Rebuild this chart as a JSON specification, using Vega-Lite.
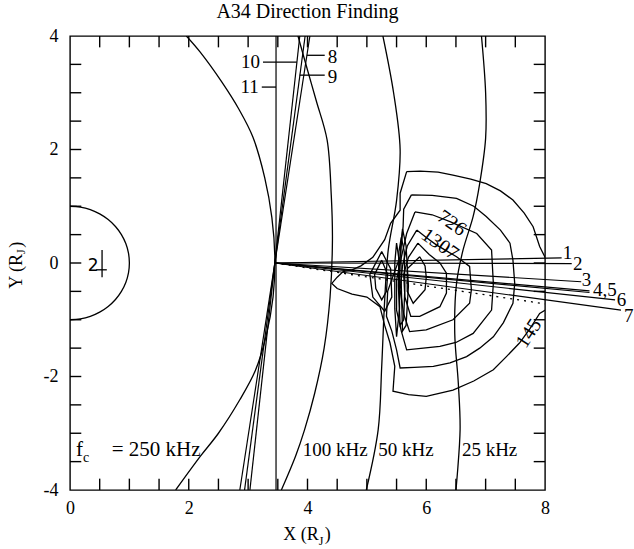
{
  "$schema": "https://vega.github.io/schema/vega-lite/v6.json",
  "width": 475,
  "height": 454,
  "autosize": {"type": "none"},
  "padding": {"left": 70, "top": 36, "right": 89, "bottom": 59},
  "background": "white",
  "title": {"text": "A34 Direction Finding", "font": "Liberation Serif", "fontSize": 20, "fontWeight": "normal", "color": "black", "offset": 5},
  "config": {
    "view": {"stroke": "black", "strokeWidth": 1.4},
    "axis": {"domain": false, "ticks": false, "labelColor": "black", "labelFont": "Liberation Serif", "labelFontSize": 18, "grid": false},
    "text": {"font": "Liberation Serif", "fontSize": 19, "color": "black"},
    "line": {"color": "black", "strokeWidth": 1.3},
    "rule": {"color": "black", "strokeWidth": 1.3}
  },
  "datasets": {
    "hticks": [
      {"x":0,"x2":0.19,"y":-3.5},{"x":0,"x2":0.19,"y":-3},{"x":0,"x2":0.19,"y":-2.5},{"x":0,"x2":0.19,"y":-2},{"x":0,"x2":0.19,"y":-1.5},{"x":0,"x2":0.19,"y":-1},{"x":0,"x2":0.19,"y":-0.5},{"x":0,"x2":0.19,"y":0},{"x":0,"x2":0.19,"y":0.5},{"x":0,"x2":0.19,"y":1},{"x":0,"x2":0.19,"y":1.5},{"x":0,"x2":0.19,"y":2},{"x":0,"x2":0.19,"y":2.5},{"x":0,"x2":0.19,"y":3},{"x":0,"x2":0.19,"y":3.5},
      {"x":8,"x2":7.81,"y":-3.5},{"x":8,"x2":7.81,"y":-3},{"x":8,"x2":7.81,"y":-2.5},{"x":8,"x2":7.81,"y":-2},{"x":8,"x2":7.81,"y":-1.5},{"x":8,"x2":7.81,"y":-1},{"x":8,"x2":7.81,"y":-0.5},{"x":8,"x2":7.81,"y":0},{"x":8,"x2":7.81,"y":0.5},{"x":8,"x2":7.81,"y":1},{"x":8,"x2":7.81,"y":1.5},{"x":8,"x2":7.81,"y":2},{"x":8,"x2":7.81,"y":2.5},{"x":8,"x2":7.81,"y":3},{"x":8,"x2":7.81,"y":3.5}
    ],
    "vticks": [
      {"x":0.5,"y":-4,"y2":-3.8},{"x":1,"y":-4,"y2":-3.8},{"x":1.5,"y":-4,"y2":-3.8},{"x":2,"y":-4,"y2":-3.8},{"x":2.5,"y":-4,"y2":-3.8},{"x":3,"y":-4,"y2":-3.8},{"x":3.5,"y":-4,"y2":-3.8},{"x":4,"y":-4,"y2":-3.8},{"x":4.5,"y":-4,"y2":-3.8},{"x":5,"y":-4,"y2":-3.8},{"x":5.5,"y":-4,"y2":-3.8},{"x":6,"y":-4,"y2":-3.8},{"x":6.5,"y":-4,"y2":-3.8},{"x":7,"y":-4,"y2":-3.8},{"x":7.5,"y":-4,"y2":-3.8},
      {"x":0.5,"y":4,"y2":3.8},{"x":1,"y":4,"y2":3.8},{"x":1.5,"y":4,"y2":3.8},{"x":2,"y":4,"y2":3.8},{"x":2.5,"y":4,"y2":3.8},{"x":3,"y":4,"y2":3.8},{"x":3.5,"y":4,"y2":3.8},{"x":4,"y":4,"y2":3.8},{"x":4.5,"y":4,"y2":3.8},{"x":5,"y":4,"y2":3.8},{"x":5.5,"y":4,"y2":3.8},{"x":6,"y":4,"y2":3.8},{"x":6.5,"y":4,"y2":3.8},{"x":7,"y":4,"y2":3.8},{"x":7.5,"y":4,"y2":3.8}
    ],
    "freq": [
      {"c":"250","o":0,"x":1.96,"y":4},{"c":"250","o":1,"x":2.19,"y":3.72},{"c":"250","o":2,"x":2.55,"y":3.2},{"c":"250","o":3,"x":2.85,"y":2.7},{"c":"250","o":4,"x":3.08,"y":2.22},{"c":"250","o":5,"x":3.28,"y":1.5},{"c":"250","o":6,"x":3.4,"y":0.8},{"c":"250","o":7,"x":3.45,"y":0.1},{"c":"250","o":8,"x":3.42,"y":-0.6},{"c":"250","o":9,"x":3.3,"y":-1.3},{"c":"250","o":10,"x":3.12,"y":-1.9},{"c":"250","o":11,"x":2.86,"y":-2.41},{"c":"250","o":12,"x":2.5,"y":-3.0},{"c":"250","o":13,"x":2.2,"y":-3.4},{"c":"250","o":14,"x":1.78,"y":-4},
      {"c":"100","o":0,"x":3.84,"y":4},{"c":"100","o":1,"x":4.0,"y":3.4},{"c":"100","o":2,"x":4.15,"y":2.85},{"c":"100","o":3,"x":4.33,"y":2.17},{"c":"100","o":4,"x":4.4,"y":1.2},{"c":"100","o":5,"x":4.42,"y":0.4},{"c":"100","o":6,"x":4.38,"y":-0.6},{"c":"100","o":7,"x":4.28,"y":-1.5},{"c":"100","o":8,"x":4.12,"y":-2.3},{"c":"100","o":9,"x":3.95,"y":-2.94},{"c":"100","o":10,"x":3.8,"y":-3.4},{"c":"100","o":11,"x":3.56,"y":-4},
      {"c":"50","o":0,"x":5.27,"y":4},{"c":"50","o":1,"x":5.45,"y":3},{"c":"50","o":2,"x":5.56,"y":2},{"c":"50","o":3,"x":5.5,"y":1.1},{"c":"50","o":4,"x":5.36,"y":0.23},{"c":"50","o":5,"x":5.3,"y":-0.65},{"c":"50","o":6,"x":5.25,"y":-1.82},{"c":"50","o":7,"x":5.19,"y":-2.94},{"c":"50","o":8,"x":4.99,"y":-4},
      {"c":"25","o":0,"x":6.93,"y":4},{"c":"25","o":1,"x":7.0,"y":3},{"c":"25","o":2,"x":7.0,"y":2.2},{"c":"25","o":3,"x":6.9,"y":1.4},{"c":"25","o":4,"x":6.79,"y":0.82},{"c":"25","o":5,"x":6.62,"y":0.23},{"c":"25","o":6,"x":6.51,"y":-0.36},{"c":"25","o":7,"x":6.48,"y":-1.24},{"c":"25","o":8,"x":6.54,"y":-2.12},{"c":"25","o":9,"x":6.57,"y":-2.94},{"c":"25","o":10,"x":6.5,"y":-4}
    ],
    "jupiter": [
      {"o":0,"x":0,"y":1},{"o":1,"x":0.174,"y":0.985},{"o":2,"x":0.342,"y":0.94},{"o":3,"x":0.5,"y":0.866},{"o":4,"x":0.643,"y":0.766},{"o":5,"x":0.766,"y":0.643},{"o":6,"x":0.866,"y":0.5},{"o":7,"x":0.94,"y":0.342},{"o":8,"x":0.985,"y":0.174},{"o":9,"x":1,"y":0},{"o":10,"x":0.985,"y":-0.174},{"o":11,"x":0.94,"y":-0.342},{"o":12,"x":0.866,"y":-0.5},{"o":13,"x":0.766,"y":-0.643},{"o":14,"x":0.643,"y":-0.766},{"o":15,"x":0.5,"y":-0.866},{"o":16,"x":0.342,"y":-0.94},{"o":17,"x":0.174,"y":-0.985},{"o":18,"x":0,"y":-1}
    ],
    "contours": [
      {"c":"c1","o":0,"x":5.67,"y":1.61},{"c":"c1","o":1,"x":5.9,"y":1.62},{"c":"c1","o":2,"x":6.2,"y":1.6},{"c":"c1","o":3,"x":6.45,"y":1.55},{"c":"c1","o":4,"x":6.75,"y":1.48},{"c":"c1","o":5,"x":7.01,"y":1.4},{"c":"c1","o":6,"x":7.25,"y":1.27},{"c":"c1","o":7,"x":7.46,"y":1.11},{"c":"c1","o":8,"x":7.65,"y":0.88},{"c":"c1","o":9,"x":7.8,"y":0.64},{"c":"c1","o":10,"x":7.91,"y":0.29},{"c":"c1","o":11,"x":8.05,"y":0.0},{"c":"c1","o":12,"x":8.1,"y":-0.4},{"c":"c1","o":13,"x":8.05,"y":-0.8},{"c":"c1","o":14,"x":7.91,"y":-0.89},{"c":"c1","o":15,"x":7.75,"y":-1.15},{"c":"c1","o":16,"x":7.57,"y":-1.41},{"c":"c1","o":17,"x":7.35,"y":-1.65},{"c":"c1","o":18,"x":7.13,"y":-1.88},{"c":"c1","o":19,"x":6.8,"y":-2.08},{"c":"c1","o":20,"x":6.45,"y":-2.24},{"c":"c1","o":21,"x":6.0,"y":-2.35},{"c":"c1","o":22,"x":5.7,"y":-2.32},{"c":"c1","o":23,"x":5.44,"y":-2.26},{"c":"c1","o":24,"x":5.47,"y":-1.82},{"c":"c1","o":25,"x":5.39,"y":-1.41},{"c":"c1","o":26,"x":5.3,"y":-1.1},{"c":"c1","o":27,"x":5.22,"y":-0.77},{"c":"c1","o":28,"x":5.0,"y":-0.6},{"c":"c1","o":29,"x":4.75,"y":-0.55},{"c":"c1","o":30,"x":4.5,"y":-0.45},{"c":"c1","o":31,"x":4.41,"y":-0.36},{"c":"c1","o":32,"x":4.5,"y":-0.25},{"c":"c1","o":33,"x":4.6,"y":-0.15},{"c":"c1","o":34,"x":4.75,"y":-0.12},{"c":"c1","o":35,"x":4.9,"y":-0.05},{"c":"c1","o":36,"x":5.1,"y":0.1},{"c":"c1","o":37,"x":5.3,"y":0.41},{"c":"c1","o":38,"x":5.4,"y":0.7},{"c":"c1","o":39,"x":5.56,"y":0.93},{"c":"c1","o":40,"x":5.56,"y":1.23},{"c":"c1","o":41,"x":5.67,"y":1.61},
      {"c":"c2","o":0,"x":5.75,"y":1.2},{"c":"c2","o":1,"x":6.1,"y":1.19},{"c":"c2","o":2,"x":6.51,"y":1.14},{"c":"c2","o":3,"x":6.8,"y":1.0},{"c":"c2","o":4,"x":7.01,"y":0.82},{"c":"c2","o":5,"x":7.25,"y":0.58},{"c":"c2","o":6,"x":7.41,"y":0.35},{"c":"c2","o":7,"x":7.46,"y":0.05},{"c":"c2","o":8,"x":7.49,"y":-0.36},{"c":"c2","o":9,"x":7.46,"y":-0.71},{"c":"c2","o":10,"x":7.3,"y":-1.05},{"c":"c2","o":11,"x":7.13,"y":-1.3},{"c":"c2","o":12,"x":6.9,"y":-1.5},{"c":"c2","o":13,"x":6.68,"y":-1.65},{"c":"c2","o":14,"x":6.4,"y":-1.76},{"c":"c2","o":15,"x":6.12,"y":-1.82},{"c":"c2","o":16,"x":5.8,"y":-1.84},{"c":"c2","o":17,"x":5.56,"y":-1.85},{"c":"c2","o":18,"x":5.5,"y":-1.53},{"c":"c2","o":19,"x":5.42,"y":-1.2},{"c":"c2","o":20,"x":5.33,"y":-0.94},{"c":"c2","o":21,"x":5.35,"y":-0.5},{"c":"c2","o":22,"x":5.45,"y":-0.2},{"c":"c2","o":23,"x":5.56,"y":0.11},{"c":"c2","o":24,"x":5.61,"y":0.64},{"c":"c2","o":25,"x":5.62,"y":0.95},{"c":"c2","o":26,"x":5.75,"y":1.2},
      {"c":"c3","o":0,"x":5.81,"y":0.9},{"c":"c3","o":1,"x":6.1,"y":0.85},{"c":"c3","o":2,"x":6.4,"y":0.73},{"c":"c3","o":3,"x":6.85,"y":0.52},{"c":"c3","o":4,"x":7.1,"y":0.23},{"c":"c3","o":5,"x":7.13,"y":-0.36},{"c":"c3","o":6,"x":7.1,"y":-0.83},{"c":"c3","o":7,"x":6.79,"y":-1.24},{"c":"c3","o":8,"x":6.5,"y":-1.4},{"c":"c3","o":9,"x":6.23,"y":-1.47},{"c":"c3","o":10,"x":5.95,"y":-1.5},{"c":"c3","o":11,"x":5.67,"y":-1.53},{"c":"c3","o":12,"x":5.58,"y":-1.2},{"c":"c3","o":13,"x":5.5,"y":-0.83},{"c":"c3","o":14,"x":5.5,"y":-0.3},{"c":"c3","o":15,"x":5.58,"y":0.1},{"c":"c3","o":16,"x":5.67,"y":0.52},{"c":"c3","o":17,"x":5.81,"y":0.9},
      {"c":"c4","o":0,"x":5.84,"y":0.58},{"c":"c4","o":1,"x":6.0,"y":0.45},{"c":"c4","o":2,"x":6.17,"y":0.32},{"c":"c4","o":3,"x":6.51,"y":0.11},{"c":"c4","o":4,"x":6.73,"y":-0.06},{"c":"c4","o":5,"x":6.76,"y":-0.47},{"c":"c4","o":6,"x":6.73,"y":-0.71},{"c":"c4","o":7,"x":6.45,"y":-1.0},{"c":"c4","o":8,"x":6.0,"y":-1.18},{"c":"c4","o":9,"x":5.72,"y":-1.21},{"c":"c4","o":10,"x":5.62,"y":-0.9},{"c":"c4","o":11,"x":5.56,"y":-0.47},{"c":"c4","o":12,"x":5.6,"y":-0.05},{"c":"c4","o":13,"x":5.68,"y":0.3},{"c":"c4","o":14,"x":5.84,"y":0.58},
      {"c":"c5","o":0,"x":5.86,"y":0.35},{"c":"c5","o":1,"x":6.05,"y":0.15},{"c":"c5","o":2,"x":6.23,"y":0.0},{"c":"c5","o":3,"x":6.34,"y":-0.18},{"c":"c5","o":4,"x":6.34,"y":-0.53},{"c":"c5","o":5,"x":6.23,"y":-0.77},{"c":"c5","o":6,"x":5.89,"y":-0.94},{"c":"c5","o":7,"x":5.74,"y":-0.94},{"c":"c5","o":8,"x":5.64,"y":-0.6},{"c":"c5","o":9,"x":5.62,"y":-0.2},{"c":"c5","o":10,"x":5.7,"y":0.1},{"c":"c5","o":11,"x":5.86,"y":0.35},
      {"c":"c6","o":0,"x":5.89,"y":0.11},{"c":"c6","o":1,"x":5.98,"y":-0.05},{"c":"c6","o":2,"x":6.0,"y":-0.25},{"c":"c6","o":3,"x":5.98,"y":-0.47},{"c":"c6","o":4,"x":5.78,"y":-0.71},{"c":"c6","o":5,"x":5.68,"y":-0.5},{"c":"c6","o":6,"x":5.68,"y":-0.1},{"c":"c6","o":7,"x":5.89,"y":0.11},
      {"c":"c7","o":0,"x":5.58,"y":0.45},{"c":"c7","o":1,"x":5.63,"y":0.2},{"c":"c7","o":2,"x":5.64,"y":-0.4},{"c":"c7","o":3,"x":5.62,"y":-1.0},{"c":"c7","o":4,"x":5.56,"y":-1.1},{"c":"c7","o":5,"x":5.53,"y":-0.4},{"c":"c7","o":6,"x":5.54,"y":0.2},{"c":"c7","o":7,"x":5.58,"y":0.45},
      {"c":"c8","o":0,"x":5.6,"y":0.6},{"c":"c8","o":1,"x":5.66,"y":0.3},{"c":"c8","o":2,"x":5.7,"y":-0.4},{"c":"c8","o":3,"x":5.66,"y":-1.1},{"c":"c8","o":4,"x":5.6,"y":-1.2},{"c":"c8","o":5,"x":5.58,"y":-0.4},{"c":"c8","o":6,"x":5.57,"y":0.3},{"c":"c8","o":7,"x":5.6,"y":0.6},
      {"c":"c9","o":0,"x":5.5,"y":0.35},{"c":"c9","o":1,"x":5.55,"y":0.0},{"c":"c9","o":2,"x":5.55,"y":-0.8},{"c":"c9","o":3,"x":5.5,"y":-1.3},{"c":"c9","o":4,"x":5.47,"y":-0.8},{"c":"c9","o":5,"x":5.47,"y":0.0},{"c":"c9","o":6,"x":5.5,"y":0.35},
      {"c":"l1","o":0,"x":5.25,"y":0.05},{"c":"l1","o":1,"x":5.35,"y":-0.2},{"c":"l1","o":2,"x":5.33,"y":-0.5},{"c":"l1","o":3,"x":5.25,"y":-0.65},{"c":"l1","o":4,"x":5.15,"y":-0.45},{"c":"l1","o":5,"x":5.13,"y":-0.2},{"c":"l1","o":6,"x":5.25,"y":0.05},
      {"c":"l2","o":0,"x":5.25,"y":0.2},{"c":"l2","o":1,"x":5.4,"y":-0.1},{"c":"l2","o":2,"x":5.42,"y":-0.6},{"c":"l2","o":3,"x":5.3,"y":-0.85},{"c":"l2","o":4,"x":5.1,"y":-0.6},{"c":"l2","o":5,"x":5.05,"y":-0.2},{"c":"l2","o":6,"x":5.25,"y":0.2}
    ],
    "rays": [
      {"r":"1","o":0,"x":3.45,"y":0},{"r":"1","o":1,"x":8.28,"y":0.09},
      {"r":"2","o":0,"x":3.45,"y":0},{"r":"2","o":1,"x":8.45,"y":-0.01},
      {"r":"3","o":0,"x":3.45,"y":0},{"r":"3","o":1,"x":8.61,"y":-0.33},
      {"r":"4","o":0,"x":3.45,"y":0},{"r":"4","o":1,"x":8.75,"y":-0.49},
      {"r":"5","o":0,"x":3.45,"y":0},{"r":"5","o":1,"x":8.75,"y":-0.52},
      {"r":"6","o":0,"x":3.45,"y":0},{"r":"6","o":1,"x":9.18,"y":-0.65},
      {"r":"7","o":0,"x":3.45,"y":0},{"r":"7","o":1,"x":9.28,"y":-0.83},
      {"r":"8","o":0,"x":2.86,"y":-4},{"r":"8","o":1,"x":4.04,"y":4},
      {"r":"9","o":0,"x":2.94,"y":-4},{"r":"9","o":1,"x":3.96,"y":4},
      {"r":"10","o":0,"x":3.03,"y":-4},{"r":"10","o":1,"x":3.87,"y":4},
      {"r":"11","o":0,"x":3.47,"y":-4},{"r":"11","o":1,"x":3.47,"y":4}
    ],
    "dotted": [
      {"o":0,"x":3.45,"y":0},{"o":1,"x":8.0,"y":-0.72}
    ],
    "leaders": [
      {"r":"8","x":3.99,"x2":4.29,"y":3.66},
      {"r":"9","x":3.87,"x2":4.29,"y":3.31},
      {"r":"10","x":3.25,"x2":3.82,"y":3.54},
      {"r":"11","x":3.23,"x2":3.47,"y":3.1},
      {"r":"cross","x":0.44,"x2":0.62,"y":-0.12}
    ],
    "vleaders": [
      {"r":"cross","x":0.54,"y":0.23,"y2":-0.25}
    ],
    "leftLabels": [
      {"t":"1","x":8.3,"y":0.17},
      {"t":"2","x":8.47,"y":-0.02},
      {"t":"3","x":8.62,"y":-0.3},
      {"t":"4,5","x":8.81,"y":-0.47},
      {"t":"6","x":9.21,"y":-0.65},
      {"t":"7","x":9.33,"y":-0.93},
      {"t":"8","x":4.34,"y":3.63},
      {"t":"9","x":4.34,"y":3.28},
      {"t":"100 kHz","x":3.92,"y":-3.3},
      {"t":"50 kHz","x":5.19,"y":-3.3},
      {"t":"25 kHz","x":6.6,"y":-3.3}
    ],
    "fLabel": [
      {"t":"f","x":0.1,"y":-3.3}
    ],
    "subLabels": [
      {"t":"c","x":0.22,"y":-3.43}
    ],
    "rightLabels": [
      {"t":"10","x":3.2,"y":3.54},
      {"t":"11","x":3.18,"y":3.1}
    ],
    "fcRest": [
      {"t":"= 250 kHz","x":2.2,"y":-3.3}
    ],
    "xtitle": [
      {"t":"X (R","x":4.19,"y":-4.79}
    ],
    "xtitleSub": [
      {"t":"J","x":4.19,"y":-4.9}
    ],
    "xtitleEnd": [
      {"t":")","x":4.29,"y":-4.79}
    ]
  },
  "layer": [
    {
      "data": {"name": "freq"},
      "mark": {"type": "line", "interpolate": "catmull-rom", "clip": true},
      "encoding": {
        "x": {"field": "x", "type": "quantitative", "scale": {"domain": [0, 8], "nice": false, "zero": false},
              "axis": {"orient": "bottom", "title": null, "values": [0, 2, 4, 6, 8], "labelExpr": "toString(datum.value)", "labelPadding": 9, "labelFlush": false}},
        "y": {"field": "y", "type": "quantitative", "scale": {"domain": [-4, 4], "nice": false, "zero": false},
              "axis": {"orient": "left", "title": null, "values": [-4, -2, 0, 2, 4], "labelExpr": "toString(datum.value)", "labelPadding": 12, "labelFlush": false}},
        "detail": {"field": "c"},
        "order": {"field": "o", "type": "quantitative"}
      }
    },
    {
      "data": {"name": "hticks"},
      "mark": {"type": "rule", "strokeWidth": 1.4},
      "encoding": {
        "x": {"field": "x", "type": "quantitative"},
        "x2": {"field": "x2"},
        "y": {"field": "y", "type": "quantitative"}
      }
    },
    {
      "data": {"name": "vticks"},
      "mark": {"type": "rule", "strokeWidth": 1.4},
      "encoding": {
        "x": {"field": "x", "type": "quantitative"},
        "y": {"field": "y", "type": "quantitative"},
        "y2": {"field": "y2"}
      }
    },
    {
      "data": {"name": "contours"},
      "mark": {"type": "line", "clip": true},
      "encoding": {
        "x": {"field": "x", "type": "quantitative"},
        "y": {"field": "y", "type": "quantitative"},
        "detail": {"field": "c"},
        "order": {"field": "o", "type": "quantitative"}
      }
    },
    {
      "data": {"name": "jupiter"},
      "mark": {"type": "line", "interpolate": "cardinal"},
      "encoding": {
        "x": {"field": "x", "type": "quantitative"},
        "y": {"field": "y", "type": "quantitative"},
        "order": {"field": "o", "type": "quantitative"}
      }
    },
    {
      "data": {"name": "rays"},
      "mark": {"type": "line", "clip": false, "strokeWidth": 1.2},
      "encoding": {
        "x": {"field": "x", "type": "quantitative"},
        "y": {"field": "y", "type": "quantitative"},
        "detail": {"field": "r"},
        "order": {"field": "o", "type": "quantitative"}
      }
    },
    {
      "data": {"name": "dotted"},
      "mark": {"type": "line", "strokeDash": [2, 5], "strokeWidth": 1.3},
      "encoding": {
        "x": {"field": "x", "type": "quantitative"},
        "y": {"field": "y", "type": "quantitative"},
        "order": {"field": "o", "type": "quantitative"}
      }
    },
    {
      "data": {"name": "leaders"},
      "mark": {"type": "rule"},
      "encoding": {
        "x": {"field": "x", "type": "quantitative"},
        "x2": {"field": "x2"},
        "y": {"field": "y", "type": "quantitative"}
      }
    },
    {
      "data": {"name": "vleaders"},
      "mark": {"type": "rule"},
      "encoding": {
        "x": {"field": "x", "type": "quantitative"},
        "y": {"field": "y", "type": "quantitative"},
        "y2": {"field": "y2"}
      }
    },
    {
      "data": {"name": "leftLabels"},
      "mark": {"type": "text", "align": "left", "baseline": "middle", "fontSize": 19},
      "encoding": {
        "x": {"field": "x", "type": "quantitative"},
        "y": {"field": "y", "type": "quantitative"},
        "text": {"field": "t"}
      }
    },
    {
      "data": {"name": "fLabel"},
      "mark": {"type": "text", "align": "left", "baseline": "middle", "fontSize": 21},
      "encoding": {
        "x": {"field": "x", "type": "quantitative"},
        "y": {"field": "y", "type": "quantitative"},
        "text": {"field": "t"}
      }
    },
    {
      "data": {"name": "subLabels"},
      "mark": {"type": "text", "align": "left", "baseline": "middle", "fontSize": 14},
      "encoding": {
        "x": {"field": "x", "type": "quantitative"},
        "y": {"field": "y", "type": "quantitative"},
        "text": {"field": "t"}
      }
    },
    {
      "data": {"name": "fcRest"},
      "mark": {"type": "text", "align": "right", "baseline": "middle", "fontSize": 21},
      "encoding": {
        "x": {"field": "x", "type": "quantitative"},
        "y": {"field": "y", "type": "quantitative"},
        "text": {"field": "t"}
      }
    },
    {
      "data": {"name": "rightLabels"},
      "mark": {"type": "text", "align": "right", "baseline": "middle", "fontSize": 19},
      "encoding": {
        "x": {"field": "x", "type": "quantitative"},
        "y": {"field": "y", "type": "quantitative"},
        "text": {"field": "t"}
      }
    },
    {
      "data": {"name": "xtitle"},
      "mark": {"type": "text", "align": "right", "baseline": "middle", "fontSize": 18},
      "encoding": {
        "x": {"field": "x", "type": "quantitative"},
        "y": {"field": "y", "type": "quantitative"},
        "text": {"field": "t"}
      }
    },
    {
      "data": {"name": "xtitleSub"},
      "mark": {"type": "text", "align": "left", "baseline": "middle", "fontSize": 12},
      "encoding": {
        "x": {"field": "x", "type": "quantitative"},
        "y": {"field": "y", "type": "quantitative"},
        "text": {"field": "t"}
      }
    },
    {
      "data": {"name": "xtitleEnd"},
      "mark": {"type": "text", "align": "left", "baseline": "middle", "fontSize": 18},
      "encoding": {
        "x": {"field": "x", "type": "quantitative"},
        "y": {"field": "y", "type": "quantitative"},
        "text": {"field": "t"}
      }
    },
    {
      "data": {"values": [{"t": "2", "x": 0.39, "y": -0.05}]},
      "mark": {"type": "text", "align": "center", "baseline": "middle", "font": "DejaVu Sans", "fontSize": 17},
      "encoding": {
        "x": {"field": "x", "type": "quantitative"},
        "y": {"field": "y", "type": "quantitative"},
        "text": {"field": "t"}
      }
    },
    {
      "data": {"values": [{"t": "726", "x": 6.43, "y": 0.7}]},
      "mark": {"type": "text", "align": "center", "baseline": "middle", "angle": 35, "fontSize": 20},
      "encoding": {
        "x": {"field": "x", "type": "quantitative"},
        "y": {"field": "y", "type": "quantitative"},
        "text": {"field": "t"}
      }
    },
    {
      "data": {"values": [{"t": "1307", "x": 6.23, "y": 0.33}]},
      "mark": {"type": "text", "align": "center", "baseline": "middle", "angle": 35, "fontSize": 20},
      "encoding": {
        "x": {"field": "x", "type": "quantitative"},
        "y": {"field": "y", "type": "quantitative"},
        "text": {"field": "t"}
      }
    },
    {
      "data": {"values": [{"t": "145", "x": 7.73, "y": -1.24}]},
      "mark": {"type": "text", "align": "center", "baseline": "middle", "angle": 303, "fontSize": 20},
      "encoding": {
        "x": {"field": "x", "type": "quantitative"},
        "y": {"field": "y", "type": "quantitative"},
        "text": {"field": "t"}
      }
    },
    {
      "data": {"values": [{"t": "Y (R", "x": -0.89, "y": 0.16}]},
      "mark": {"type": "text", "align": "right", "baseline": "middle", "angle": 270, "fontSize": 18},
      "encoding": {
        "x": {"field": "x", "type": "quantitative"},
        "y": {"field": "y", "type": "quantitative"},
        "text": {"field": "t"}
      }
    },
    {
      "data": {"values": [{"t": "J", "x": -0.82, "y": 0.16}]},
      "mark": {"type": "text", "align": "left", "baseline": "middle", "angle": 270, "fontSize": 12},
      "encoding": {
        "x": {"field": "x", "type": "quantitative"},
        "y": {"field": "y", "type": "quantitative"},
        "text": {"field": "t"}
      }
    },
    {
      "data": {"values": [{"t": ")", "x": -0.89, "y": 0.27}]},
      "mark": {"type": "text", "align": "left", "baseline": "middle", "angle": 270, "fontSize": 18},
      "encoding": {
        "x": {"field": "x", "type": "quantitative"},
        "y": {"field": "y", "type": "quantitative"},
        "text": {"field": "t"}
      }
    }
  ]
}
